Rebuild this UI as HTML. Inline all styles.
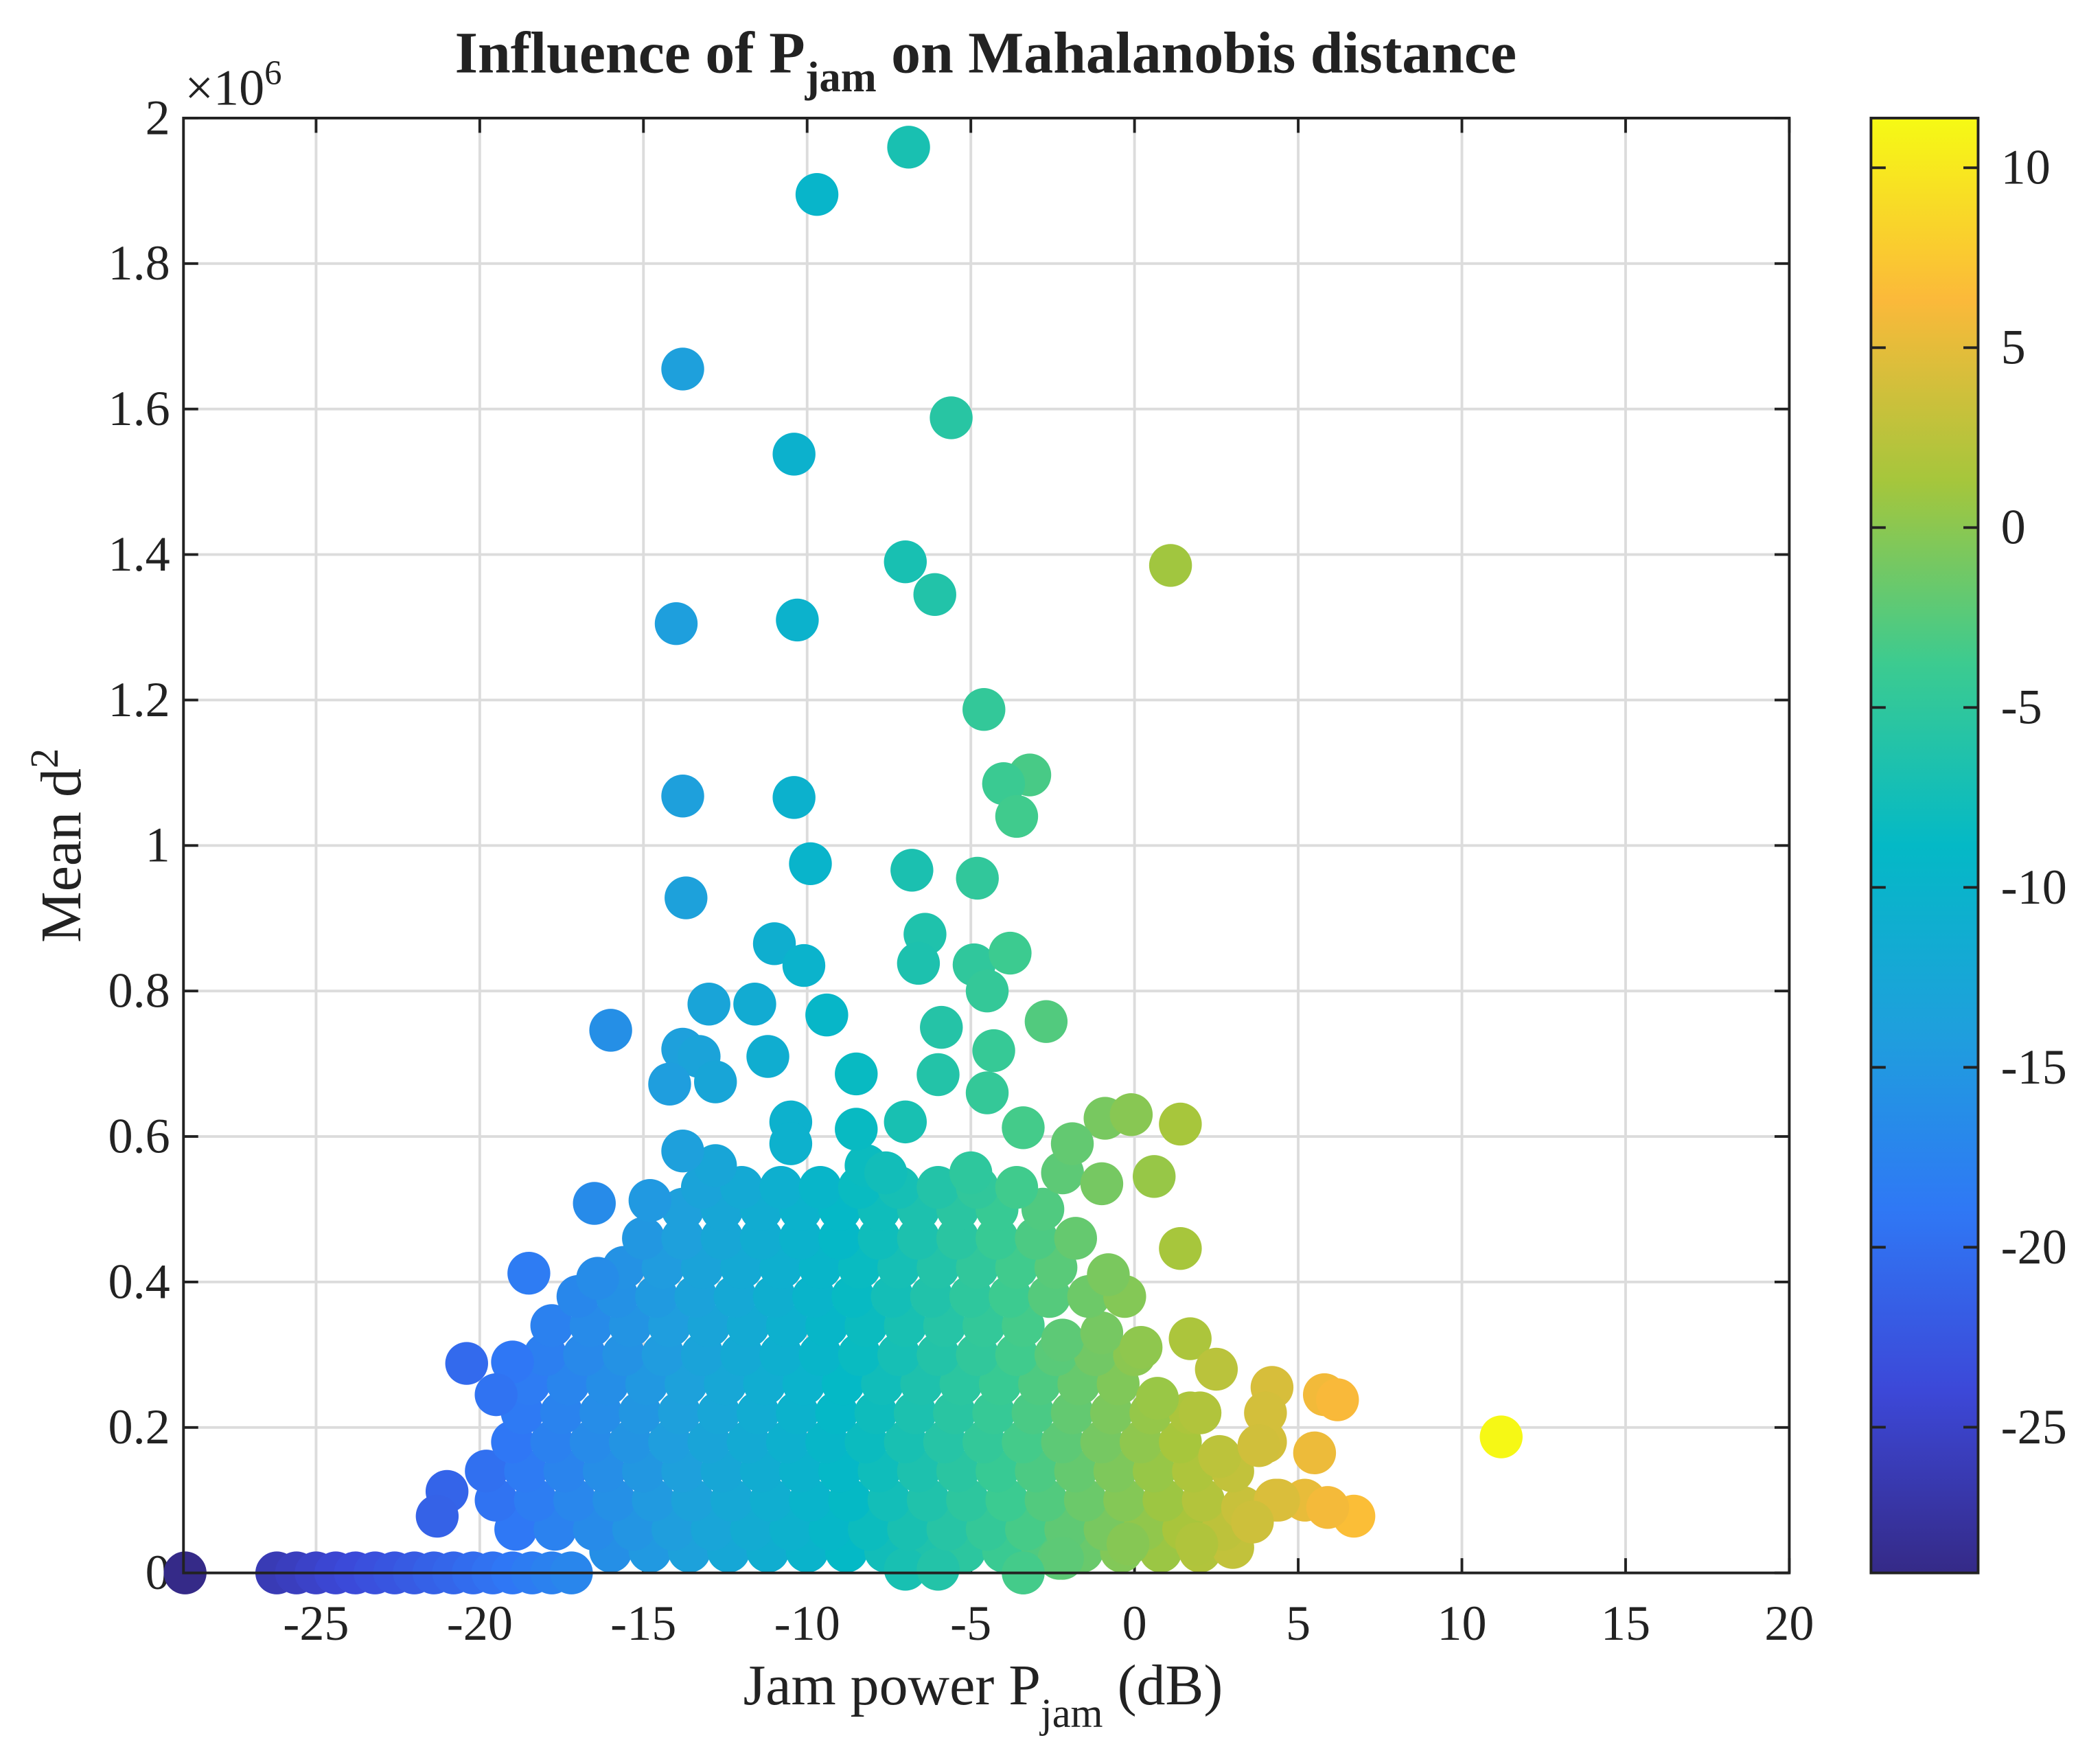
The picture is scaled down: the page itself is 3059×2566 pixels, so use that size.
<!DOCTYPE html>
<html><head><meta charset="utf-8"><style>
html,body{margin:0;padding:0;background:#fff}
svg{display:block}
text{font-family:"Liberation Serif",serif;fill:#222}
</style></head><body>
<svg id="chart" width="3059" height="2566" viewBox="0 0 1568 1315" xmlns="http://www.w3.org/2000/svg">
<defs>
<linearGradient id="cb" x1="0" y1="1" x2="0" y2="0">
<stop offset="0" stop-color="#352a87"/><stop offset="0.125" stop-color="#3c48d8"/><stop offset="0.25" stop-color="#2f78f5"/><stop offset="0.375" stop-color="#1ea0dc"/><stop offset="0.5" stop-color="#04b9c6"/><stop offset="0.625" stop-color="#3ccb90"/><stop offset="0.75" stop-color="#a5c63c"/><stop offset="0.875" stop-color="#fbb93a"/><stop offset="1" stop-color="#f6fa14"/>
</linearGradient>
</defs>
<rect x="0" y="0" width="1568" height="1315" fill="#fff"/>
<g id="grid"></g>
<g id="ticks"></g>
<g id="marks"></g>
<rect x="137" y="88" width="1199" height="1086" fill="none" stroke="#222" stroke-width="2"/>
<text x="736" y="54" text-anchor="middle" font-size="44" font-weight="bold">Influence of P<tspan font-size="32" dy="14">jam</tspan><tspan dy="-14"> on Mahalanobis distance</tspan></text>
<text x="138" y="78" font-size="38">×10<tspan font-size="26" dy="-15">6</tspan></text>
<text x="734" y="1272" text-anchor="middle" font-size="43">Jam power P<tspan font-size="31" dy="17">jam</tspan><tspan dy="-17"> (dB)</tspan></text>
<text transform="translate(60,631) rotate(-90)" text-anchor="middle" font-size="43">Mean d<tspan font-size="30" dy="-17">2</tspan></text>
<rect x="1397" y="88" width="80" height="1086" fill="url(#cb)" stroke="#222" stroke-width="2"/>
<g id="cbticks"></g>
</svg>
<script>
const xTicks=[-25,-20,-15,-10,-5,0,5,10,15,20];
const yTicks=[0,0.2,0.4,0.6,0.8,1,1.2,1.4,1.6,1.8,2];
const yTickLabels=["0","0.2","0.4","0.6","0.8","1","1.2","1.4","1.6","1.8","2"];
const cTicks=[-25,-20,-15,-10,-5,0,5,10];
const points=[
[-29,0],[-26.2,0],[-25.6,0],[-25,0],[-24.4,0],[-23.8,0],[-23.2,0],[-22.6,0],[-22,0],[-21.4,0],[-20.8,0],[-20.2,0],[-19.6,0],[-19,0],[-18.4,0],[-17.8,0],[-17.2,0],
[-16,0.03],[-14.8,0.03],[-13.6,0.03],[-12.4,0.03],[-11.2,0.03],[-10,0.03],[-8.8,0.03],[-7.6,0.03],[-6.4,0.03],[-5.2,0.03],[-4,0.03],[-2.8,0.03],[-1.6,0.03],[-0.4,0.03],[0.8,0.03],[2,0.03],[3,0.035],[-3.4,0],[-2.3,0.02],[-7,0.005],[-6,0.005],
[-18.9,0.06],[-17.7,0.06],[-16.5,0.06],[-15.3,0.06],[-14.1,0.06],[-12.9,0.06],[-11.7,0.06],[-10.5,0.06],[-9.3,0.06],[-8.1,0.06],[-6.9,0.06],[-5.7,0.06],[-4.5,0.06],[-3.3,0.06],[-2.1,0.06],[-0.9,0.06],[0.3,0.06],[1.5,0.06],[2.7,0.06],
[-19.5,0.1],[-18.3,0.1],[-17.1,0.1],[-15.9,0.1],[-14.7,0.1],[-13.5,0.1],[-12.3,0.1],[-11.1,0.1],[-9.9,0.1],[-8.7,0.1],[-7.5,0.1],[-6.3,0.1],[-5.1,0.1],[-3.9,0.1],[-2.7,0.1],[-1.5,0.1],[-0.3,0.1],[0.9,0.1],[2.1,0.1],[3.3,0.09],[4.3,0.1],
[-19.8,0.14],[-18.6,0.14],[-17.4,0.14],[-16.2,0.14],[-15,0.14],[-13.8,0.14],[-12.6,0.14],[-11.4,0.14],[-10.2,0.14],[-9,0.14],[-7.8,0.14],[-6.6,0.14],[-5.4,0.14],[-4.2,0.14],[-3,0.14],[-1.8,0.14],[-0.6,0.14],[0.6,0.14],[1.8,0.14],[3,0.14],
[-19,0.18],[-17.8,0.18],[-16.6,0.18],[-15.4,0.18],[-14.2,0.18],[-13,0.18],[-11.8,0.18],[-10.6,0.18],[-9.4,0.18],[-8.2,0.18],[-7,0.18],[-5.8,0.18],[-4.6,0.18],[-3.4,0.18],[-2.2,0.18],[-1,0.18],[0.2,0.18],[1.4,0.18],[2.6,0.16],[4,0.18],
[-18.7,0.22],[-17.5,0.22],[-16.3,0.22],[-15.1,0.22],[-13.9,0.22],[-12.7,0.22],[-11.5,0.22],[-10.3,0.22],[-9.1,0.22],[-7.9,0.22],[-6.7,0.22],[-5.5,0.22],[-4.3,0.22],[-3.1,0.22],[-1.9,0.22],[-0.7,0.22],[0.5,0.22],[1.7,0.22],
[-18.5,0.26],[-17.3,0.26],[-16.1,0.26],[-14.9,0.26],[-13.7,0.26],[-12.5,0.26],[-11.3,0.26],[-10.1,0.26],[-8.9,0.26],[-7.7,0.26],[-6.5,0.26],[-5.3,0.26],[-4.1,0.26],[-2.9,0.26],[-1.7,0.26],[-0.5,0.26],[0.7,0.24],[2,0.22],
[-18,0.3],[-16.8,0.3],[-15.6,0.3],[-14.4,0.3],[-13.2,0.3],[-12,0.3],[-10.8,0.3],[-9.6,0.3],[-8.4,0.3],[-7.2,0.3],[-6,0.3],[-4.8,0.3],[-3.6,0.3],[-2.4,0.3],[-1.2,0.3],[0,0.3],
[-17.8,0.34],[-16.6,0.34],[-15.4,0.34],[-14.2,0.34],[-13,0.34],[-11.8,0.34],[-10.6,0.34],[-9.4,0.34],[-8.2,0.34],[-7,0.34],[-5.8,0.34],[-4.6,0.34],[-3.4,0.34],[-2.2,0.32],[-1,0.33],[0.2,0.31],
[-17,0.38],[-15.8,0.38],[-14.6,0.38],[-13.4,0.38],[-12.2,0.38],[-11,0.38],[-9.8,0.38],[-8.6,0.38],[-7.4,0.38],[-6.2,0.38],[-5,0.38],[-3.8,0.38],[-2.6,0.38],[-1.4,0.38],[-0.3,0.38],
[-15.6,0.42],[-14.4,0.42],[-13.2,0.42],[-12,0.42],[-10.8,0.42],[-9.6,0.42],[-8.4,0.42],[-7.2,0.42],[-6,0.42],[-4.8,0.42],[-3.6,0.42],[-2.4,0.42],[-0.8,0.41],
[-15,0.46],[-13.8,0.46],[-12.6,0.46],[-11.4,0.46],[-10.2,0.46],[-9,0.46],[-7.8,0.46],[-6.6,0.46],[-5.4,0.46],[-4.2,0.46],[-3,0.46],[-1.8,0.46],
[-13.8,0.5],[-12.6,0.5],[-11.4,0.5],[-10.2,0.5],[-9,0.5],[-7.8,0.5],[-6.6,0.5],[-5.4,0.5],[-4.2,0.5],[-2.8,0.5],
[-13.2,0.53],[-12,0.53],[-10.8,0.53],[-9.6,0.53],[-8.4,0.53],[-7.2,0.53],[-6,0.53],[-4.8,0.53],[-3.6,0.53],
[-12.8,0.56],[-8.2,0.56],[-7.6,0.55],[-5,0.55],[-2.2,0.55],
[-6.9,1.96],[-9.7,1.895],[-13.8,1.655],[-5.6,1.588],[-10.4,1.538],[-7.0,1.39],[1.1,1.385],[-6.1,1.345],[-14.0,1.305],[-10.3,1.31],[-4.6,1.187],[-3.2,1.097],[-4.0,1.085],[-3.6,1.04],[-13.8,1.068],[-10.4,1.066],[-9.9,0.975],[-6.8,0.966],[-4.8,0.955],[-13.7,0.928],[-11.0,0.865],[-6.4,0.878],[-10.1,0.835],[-6.6,0.838],[-4.9,0.836],[-3.8,0.852],[-4.5,0.8],[-13.0,0.782],[-11.6,0.782],[-9.4,0.767],[-2.7,0.758],[-16.0,0.746],[-5.9,0.75],[-13.8,0.72],[-13.3,0.71],[-11.2,0.71],[-4.3,0.718],[-14.2,0.672],[-8.5,0.686],[-12.8,0.675],[-6.0,0.685],[-4.5,0.66],[-10.5,0.62],[-7.0,0.62],[-3.4,0.612],[-0.9,0.625],[-0.1,0.63],[1.4,0.617],[-13.8,0.58],[-10.5,0.59],[-8.5,0.61],[-1.9,0.59],[-1.0,0.535],[0.6,0.545],[-16.5,0.508],[-14.8,0.512],[-18.5,0.412],[-16.4,0.405],[1.4,0.446],[-20.4,0.288],[-19.0,0.29],[-19.5,0.245],[1.7,0.322],[2.5,0.28],[4.2,0.255],[5.8,0.245],[6.2,0.238],[11.2,0.187],[-21.0,0.112],[-21.3,0.078],[6.7,0.078],[5.5,0.165],[4.0,0.22],[3.8,0.175],[5.2,0.1],[5.9,0.09],[4.4,0.1],[3.6,0.07],[-0.2,0.04],[1.9,0.04],[-2.2,0.02],[-3.4,0]
];
const NS="http://www.w3.org/2000/svg";
const L=137,R=1336,T=88,B=1174,X0=-29.05,X1=20,Y0=0,Y1=2,C0=-29.05,C1=11.38;
function sx(v){return L+(v-X0)/(X1-X0)*(R-L);}
function sy(v){return B-(v-Y0)/(Y1-Y0)*(B-T);}
function cy(v){return B-(v-C0)/(C1-C0)*(B-T);}
const stops=[[0,[53,42,135]],[0.125,[60,72,216]],[0.25,[47,120,245]],[0.375,[30,160,220]],[0.5,[4,185,198]],[0.625,[60,203,144]],[0.75,[165,198,60]],[0.875,[251,185,58]],[1,[246,250,20]]];
function parula(t){t=Math.max(0,Math.min(1,t));for(let i=1;i<stops.length;i++){if(t<=stops[i][0]){const a=stops[i-1],b=stops[i];const f=(t-a[0])/(b[0]-a[0]);return 'rgb('+a[1].map((c,k)=>Math.round(c+(b[1][k]-c)*f)).join(',')+')';}}return 'rgb(246,250,20)';}
function mk(tag,attrs,parent){const e=document.createElementNS(NS,tag);for(const k in attrs)e.setAttribute(k,attrs[k]);parent.appendChild(e);return e;}
const grid=document.getElementById('grid'),ticks=document.getElementById('ticks'),marks=document.getElementById('marks'),cbt=document.getElementById('cbticks');
xTicks.forEach(v=>{const x=sx(v);
const g=mk('line',{x1:x,x2:x,y1:T,y2:B,stroke:'#dcdcdc','stroke-width':2},grid);


mk('line',{x1:x,x2:x,y1:B,y2:B-11,stroke:'#222','stroke-width':2},ticks);
mk('line',{x1:x,x2:x,y1:T,y2:T+11,stroke:'#222','stroke-width':2},ticks);
const t=mk('text',{x:x,y:B+50,'text-anchor':'middle','font-size':37},ticks);t.textContent=String(v);

});
yTicks.forEach((v,i)=>{const y=sy(v);
const g=mk('line',{x1:L,x2:R,y1:y,y2:y,stroke:'#dcdcdc','stroke-width':2},grid);


mk('line',{x1:L,x2:L+11,y1:y,y2:y,stroke:'#222','stroke-width':2},ticks);
mk('line',{x1:R,x2:R-11,y1:y,y2:y,stroke:'#222','stroke-width':2},ticks);
const t=mk('text',{x:L-10,y:y+12,'text-anchor':'end','font-size':37},ticks);t.textContent=yTickLabels[i];

});
points.forEach(p=>{const c=mk('circle',{cx:sx(p[0]),cy:sy(p[1]),r:16,fill:parula((p[0]-C0)/(C1-C0))},marks);

});
cTicks.forEach(v=>{const y=cy(v);
mk('line',{x1:1477,x2:1466,y1:y,y2:y,stroke:'#222','stroke-width':2},cbt);
mk('line',{x1:1397,x2:1408,y1:y,y2:y,stroke:'#222','stroke-width':2},cbt);
const t=mk('text',{x:1494,y:y+12,'font-size':37},cbt);t.textContent=String(v);

});
</script>
</body></html>
